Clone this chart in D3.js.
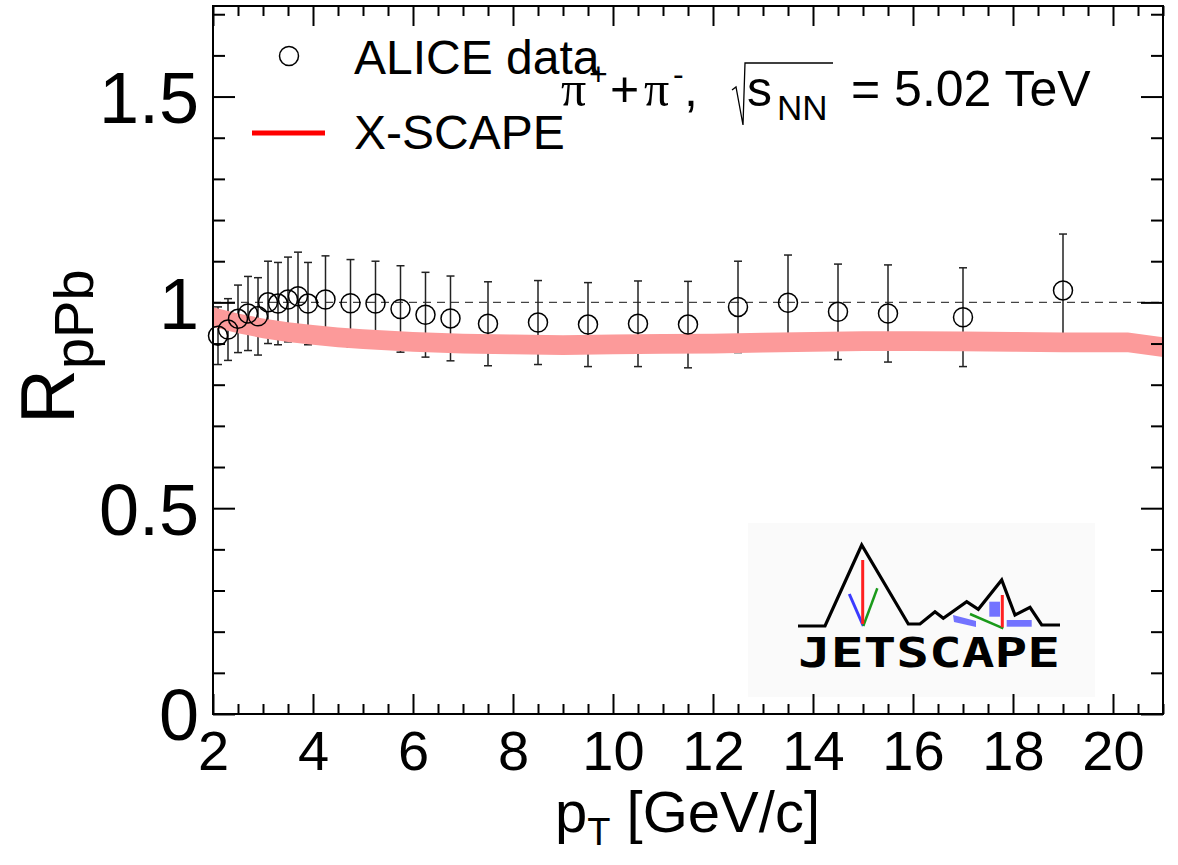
<!DOCTYPE html>
<html>
<head>
<meta charset="utf-8">
<script src="https://cdn.jsdelivr.net/npm/d3@7"></script>
<style>
  html, body { margin: 0; padding: 0; background: #fff; }
  svg { display: block; }
  text { font-family: "Liberation Sans", Arial, Helvetica, sans-serif; fill: #000; }
</style>
</head>
<body>
<svg id="chart" width="1178" height="865"></svg>
<script>
// ALICE charged-pion nuclear modification factor, p-Pb at 5.02 TeV
const ptValues = [2.1, 2.3, 2.5, 2.7, 2.9, 3.1, 3.3, 3.5, 3.7, 3.9, 4.25, 4.75, 5.25, 5.75,
                  6.25, 6.75, 7.5, 8.5, 9.5, 10.5, 11.5, 12.5, 13.5, 14.5, 15.5, 17, 19];
const rpPbValues = [0.919, 0.934, 0.960, 0.973, 0.966, 1.000, 0.997, 1.007, 1.015, 0.997, 1.007, 0.998, 0.997, 0.984,
                    0.970, 0.961, 0.948, 0.951, 0.946, 0.948, 0.946, 0.989, 0.999, 0.977, 0.973, 0.964, 1.029];
const rpPbErrors = [0.070, 0.075, 0.082, 0.090, 0.094, 0.100, 0.100, 0.103, 0.107, 0.100, 0.106, 0.106, 0.103, 0.105,
                    0.103, 0.103, 0.102, 0.102, 0.102, 0.104, 0.105, 0.111, 0.116, 0.116, 0.118, 0.120, 0.137];

// X-SCAPE prediction band
const modelPt   = [2.0, 2.5, 3.0, 3.5, 4.0, 4.5, 5.0, 6.0, 7.0, 8.0, 9.0, 10.0, 11.0, 12.0, 13.0, 14.0, 15.0, 16.0, 17.0, 18.0, 19.0, 20.3, 21.0];
const modelLow  = [0.940, 0.925, 0.913, 0.904, 0.897, 0.891, 0.887, 0.880, 0.876, 0.874, 0.872, 0.874, 0.875, 0.876, 0.878, 0.880, 0.882, 0.882, 0.881, 0.880, 0.879, 0.879, 0.867];
const modelHigh = [0.988, 0.973, 0.961, 0.952, 0.945, 0.939, 0.935, 0.928, 0.924, 0.922, 0.920, 0.922, 0.923, 0.924, 0.926, 0.928, 0.930, 0.930, 0.929, 0.928, 0.927, 0.927, 0.915];

// Axis ticks and labels
const xMajorTicks = [2, 4, 6, 8, 10, 12, 14, 16, 18, 20];
const xTickLabels = ["2", "4", "6", "8", "10", "12", "14", "16", "18", "20"];
const yMajorTicks = [0, 0.5, 1, 1.5];
const yTickLabels = ["0", "0.5", "1", "1.5"];

const svg = d3.select("#chart");
const frame = { left: 213, right: 1163, top: 6, bottom: 714 };

const x = d3.scaleLinear().domain([2, 21]).range([frame.left, frame.right]);
const y = d3.scaleLinear().domain([0, 1.72]).range([frame.bottom, frame.top]);

// ---- JETSCAPE logo (drawn in its own local frame) ----
const logo = svg.append("g").attr("transform", "translate(748,523)");
logo.append("rect").attr("width", 347).attr("height", 174).attr("fill", "#fafafa");
logo.append("path")
  .attr("d", "M50,103 L77,103 L113.7,22 L160.3,101 L172,101 L187,88.7 L195.3,95.3 L218.7,78.7 L230.3,86.3 L253.7,57 L267,92 L282,84.3 L293.7,102 L312,102")
  .attr("fill", "none").attr("stroke", "#000").attr("stroke-width", 3.2).attr("stroke-linejoin", "miter");
logo.append("path").attr("d", "M101.3,71 L115.3,103").attr("stroke", "#3a3aff").attr("stroke-width", 3);
logo.append("path").attr("d", "M115.3,103 L129.3,65.3").attr("stroke", "#1a9a1a").attr("stroke-width", 2.5);
logo.append("path").attr("d", "M114.7,37 L114.7,101").attr("stroke", "#ff2020").attr("stroke-width", 3);
logo.append("path").attr("d", "M205,92 L228,98 L228,104 L206,99 Z").attr("fill", "#5a5aff").attr("opacity", 0.85);
logo.append("rect").attr("x", 241.3).attr("y", 78.7).attr("width", 10.7).attr("height", 15).attr("fill", "#5a5aff").attr("opacity", 0.85);
logo.append("rect").attr("x", 258.7).attr("y", 97).attr("width", 25).attr("height", 6.7).attr("fill", "#5a5aff").attr("opacity", 0.85);
logo.append("path").attr("d", "M222,91 L255.3,105.3").attr("stroke", "#1a9a1a").attr("stroke-width", 2.5);
logo.append("path").attr("d", "M254.3,72 L254.3,104.3").attr("stroke", "#ff2020").attr("stroke-width", 3);
logo.append("text").attr("x", 50).attr("y", 144)
  .attr("textLength", 262).attr("lengthAdjust", "spacingAndGlyphs")
  .style("font-family", "'DejaVu Sans Mono', monospace").style("font-weight", "bold")
  .style("font-size", "41px").text("JETSCAPE");

// ---- reference line at unity ----
svg.append("line")
  .attr("x1", x(2)).attr("x2", x(21)).attr("y1", y(1)).attr("y2", y(1))
  .attr("stroke", "#444").attr("stroke-width", 1.2).attr("stroke-dasharray", "8,6");

// ---- data error bars ----
const data = ptValues.map((pt, i) => ({ pt, v: rpPbValues[i], e: rpPbErrors[i] }));
const bars = svg.append("g").attr("stroke", "#222").attr("stroke-width", 1.5);
bars.selectAll("line.err").data(data).join("line").attr("class", "err")
  .attr("x1", d => x(d.pt)).attr("x2", d => x(d.pt))
  .attr("y1", d => y(d.v - d.e)).attr("y2", d => y(d.v + d.e));
bars.selectAll("line.capTop").data(data).join("line").attr("class", "capTop")
  .attr("x1", d => x(d.pt) - 4).attr("x2", d => x(d.pt) + 4)
  .attr("y1", d => y(d.v + d.e)).attr("y2", d => y(d.v + d.e));
bars.selectAll("line.capBot").data(data).join("line").attr("class", "capBot")
  .attr("x1", d => x(d.pt) - 4).attr("x2", d => x(d.pt) + 4)
  .attr("y1", d => y(d.v - d.e)).attr("y2", d => y(d.v - d.e));

// ---- model band ----
const model = modelPt.map((pt, i) => ({ pt, lo: modelLow[i], hi: modelHigh[i] }));
svg.append("path").datum(model)
  .attr("fill", "#fc9a9a")
  .attr("d", d3.area().x(d => x(d.pt)).y0(d => y(d.lo)).y1(d => y(d.hi)));

// ---- data markers ----
svg.append("g").selectAll("circle").data(data).join("circle")
  .attr("cx", d => x(d.pt)).attr("cy", d => y(d.v)).attr("r", 9.5)
  .attr("fill", "none").attr("stroke", "#000").attr("stroke-width", 1.5);

// ---- axes ----
const fmtX = d => xTickLabels[xMajorTicks.indexOf(d)];
const fmtY = d => yTickLabels[yMajorTicks.indexOf(d)];
const xMinor = d3.range(2, 21.001, 0.5).filter(v => !xMajorTicks.includes(v));
const yMinor = d3.range(0, 1.7001, 0.1).map(v => +v.toFixed(2)).filter(v => !yMajorTicks.includes(v));

function styleAxis(g) {
  g.select(".domain").remove();
  g.selectAll(".tick line").attr("stroke", "#000").attr("stroke-width", 2);
}

svg.append("g").attr("transform", `translate(0,${frame.bottom})`)
  .call(d3.axisBottom(x).tickValues(xMajorTicks).tickSize(-20).tickPadding(16).tickFormat(fmtX))
  .call(styleAxis)
  .call(g => g.selectAll("text").style("font-size", "56px").attr("font-family", null));
svg.append("g").attr("transform", `translate(0,${frame.bottom})`)
  .call(d3.axisBottom(x).tickValues(xMinor).tickSize(-10).tickFormat(""))
  .call(styleAxis);
svg.append("g").attr("transform", `translate(0,${frame.top})`)
  .call(d3.axisTop(x).tickValues(xMajorTicks).tickSize(-20).tickFormat(""))
  .call(styleAxis);
svg.append("g").attr("transform", `translate(0,${frame.top})`)
  .call(d3.axisTop(x).tickValues(xMinor).tickSize(-10).tickFormat(""))
  .call(styleAxis);

svg.append("g").attr("transform", `translate(${frame.left},0)`)
  .call(d3.axisLeft(y).tickValues(yMajorTicks).tickSize(-22).tickPadding(14).tickFormat(fmtY))
  .call(styleAxis)
  .call(g => g.selectAll("text").style("font-size", "72px").attr("font-family", null).attr("dy", "0.36em"));
svg.append("g").attr("transform", `translate(${frame.left},0)`)
  .call(d3.axisLeft(y).tickValues(yMinor).tickSize(-12).tickFormat(""))
  .call(styleAxis);
svg.append("g").attr("transform", `translate(${frame.right},0)`)
  .call(d3.axisRight(y).tickValues(yMajorTicks).tickSize(-22).tickFormat(""))
  .call(styleAxis);
svg.append("g").attr("transform", `translate(${frame.right},0)`)
  .call(d3.axisRight(y).tickValues(yMinor).tickSize(-12).tickFormat(""))
  .call(styleAxis);

// frame
svg.append("rect")
  .attr("x", frame.left).attr("y", frame.top)
  .attr("width", frame.right - frame.left).attr("height", frame.bottom - frame.top)
  .attr("fill", "none").attr("stroke", "#000").attr("stroke-width", 2);

// ---- axis titles ----
const xTitle = svg.append("text").attr("x", 555).attr("y", 832).style("font-size", "58px");
xTitle.append("tspan").text("p");
xTitle.append("tspan").attr("dy", 13).style("font-size", "38px").text("T");
xTitle.append("tspan").attr("dy", -13).text(" [GeV/c]");

const yTitle = svg.append("text").attr("transform", "translate(74,424) rotate(-90)").style("font-size", "76px");
yTitle.append("tspan").text("R");
yTitle.append("tspan").attr("dy", 19).style("font-size", "56px").text("pPb");

// ---- legend ----
svg.append("circle").attr("cx", 289).attr("cy", 56).attr("r", 9.5)
  .attr("fill", "none").attr("stroke", "#000").attr("stroke-width", 1.5);
svg.append("text").attr("x", 354).attr("y", 74).style("font-size", "48px").text("ALICE data");
svg.append("line").attr("x1", 252).attr("x2", 325).attr("y1", 133).attr("y2", 133)
  .attr("stroke", "#ff0000").attr("stroke-width", 5);
svg.append("text").attr("x", 354).attr("y", 149).style("font-size", "48px").text("X-SCAPE");

// ---- collision system label ----
const base = 106;
const sys = svg.append("text").attr("y", base).style("font-size", "50px");
sys.append("tspan").attr("x", 561).style("font-family", "'Liberation Serif', serif").text("π");
sys.append("tspan").attr("x", 589).attr("dy", -21).style("font-size", "32px").text("+");
sys.append("tspan").attr("x", 610).attr("dy", 21).text("+");
sys.append("tspan").attr("x", 644).style("font-family", "'Liberation Serif', serif").text("π");
sys.append("tspan").attr("x", 673).attr("dy", -21).style("font-size", "32px").text("-");
sys.append("tspan").attr("x", 684).attr("dy", 21).text(",");
sys.append("tspan").attr("x", 747).text("s");
sys.append("tspan").attr("x", 777).attr("dy", 14).style("font-size", "35px").text("NN");
sys.append("tspan").attr("x", 851).attr("dy", -14).text("= 5.02 TeV");
// radical sign over s_NN
svg.append("path")
  .attr("d", `M732,${base - 16} L736,${base - 19} L743,${base + 19} L745,${base - 43} L833,${base - 43}`)
  .attr("fill", "none").attr("stroke", "#000").attr("stroke-width", 1.3);
</script>
</body>
</html>
